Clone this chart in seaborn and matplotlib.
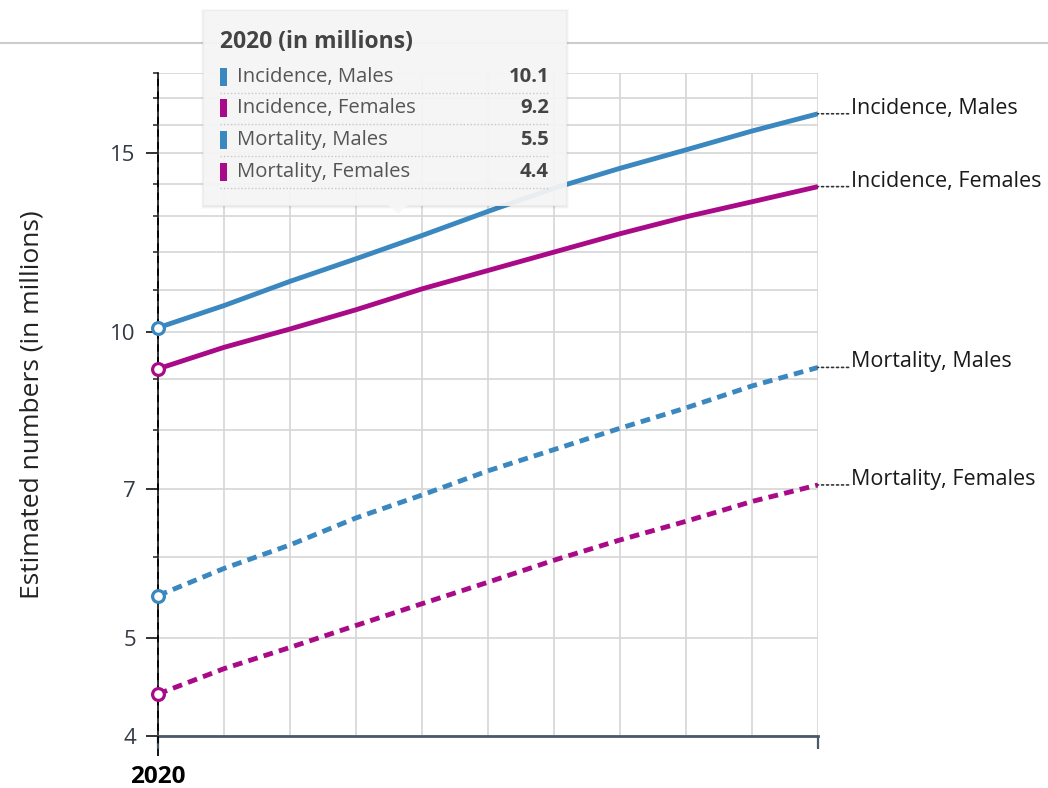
import numpy as np
import pandas as pd
import matplotlib
matplotlib.use("Agg")
import matplotlib.pyplot as plt
from matplotlib.patches import Polygon, Rectangle
from matplotlib.lines import Line2D
import seaborn as sns

# ---------------- data ----------------
years = [2020, 2022, 2024, 2026, 2028, 2030, 2032, 2034, 2036, 2038, 2040]
incidence_males = [10.1, 10.62, 11.22, 11.81, 12.45, 13.15, 13.86, 14.5, 15.12, 15.78, 16.41]
incidence_females = [9.2, 9.66, 10.07, 10.52, 11.03, 11.5, 11.99, 12.5, 12.99, 13.44, 13.91]
mortality_males = [5.5, 5.85, 6.17, 6.56, 6.91, 7.3, 7.66, 8.04, 8.42, 8.85, 9.23]
mortality_females = [4.4, 4.66, 4.89, 5.14, 5.4, 5.67, 5.96, 6.24, 6.51, 6.81, 7.07]
series_names = ["Incidence, Males", "Incidence, Females", "Mortality, Males", "Mortality, Females"]
tooltip_title = "2020 (in millions)"
tooltip_values = ["10.1", "9.2", "5.5", "4.4"]
y_major = [4, 5, 7, 10, 15]
y_minor = [6, 8, 9, 11, 12, 13, 14, 16, 17, 18]

BLUE = "#3a88bf"
MAGENTA = "#a90a88"
palette = {series_names[0]: BLUE, series_names[1]: MAGENTA,
           series_names[2]: BLUE, series_names[3]: MAGENTA}
dashes = {series_names[0]: "", series_names[1]: "",
          series_names[2]: (2.0, 1.3), series_names[3]: (2.0, 1.3)}

all_vals = [incidence_males, incidence_females, mortality_males, mortality_females]
df = pd.DataFrame({
    "year": np.tile(years, 4),
    "value": np.concatenate(all_vals),
    "series": np.repeat(series_names, len(years)),
})

# ---------------- figure ----------------
sns.set_theme(style="white")
plt.rcParams["font.family"] = ["Open Sans", "DejaVu Sans"]

W, H = 1048, 788
fig = plt.figure(figsize=(W / 100, H / 100), dpi=100)
fig.patch.set_facecolor("white")

def fx(x):
    return x / W

def fy(y):
    return 1 - y / H

L, R, T, B = 158, 818, 73, 736
ax = fig.add_axes([fx(L), fy(B), fx(R) - fx(L), fy(T) - fy(B)])

sns.lineplot(data=df, x="year", y="value", hue="series", style="series",
             palette=palette, dashes=dashes, linewidth=3.5, legend=False,
             ax=ax, zorder=3)
for lh in ax.lines:
    lh.set_solid_capstyle("butt")
    lh.set_dash_capstyle("butt")
    lh.set_solid_joinstyle("round")

ax.set_yscale("log")
ax.set_ylim(4, 18)
ax.set_xlim(2020, 2040)

ax.yaxis.set_major_locator(matplotlib.ticker.FixedLocator(y_major))
ax.yaxis.set_minor_locator(matplotlib.ticker.FixedLocator(y_minor))
ax.yaxis.set_major_formatter(matplotlib.ticker.FixedFormatter([str(v) for v in y_major]))
ax.yaxis.set_minor_formatter(matplotlib.ticker.NullFormatter())

ax.set_xticks([2020, 2040])
ax.set_xticklabels(["2020", ""])
ax.set_xticks(years, minor=True)

ax.grid(True, which="both", axis="both", color="#d6d6d6", linewidth=1.2, zorder=0)
ax.set_axisbelow(True)

ax.tick_params(axis="y", which="major", length=9, width=1.3, color="#222222",
               labelsize=16, labelcolor="#333a44", pad=7, left=True)
ax.tick_params(axis="y", which="minor", length=3.8, width=1.1, color="#222222", left=True)
ax.tick_params(axis="x", which="major", length=9, width=1.6, color="#4a5868",
               labelsize=17.5, labelcolor="black", pad=12, bottom=True)
ax.tick_params(axis="x", which="minor", length=0)
for lbl in ax.get_xticklabels():
    lbl.set_fontweight("bold")

for side in ["top", "right"]:
    ax.spines[side].set_visible(False)
ax.spines["left"].set_color("#222222")
ax.spines["left"].set_linewidth(1.3)
ax.spines["bottom"].set_color("#4a5868")
ax.spines["bottom"].set_linewidth(2.0)

ax.set_xlabel("")
ax.set_ylabel("Estimated numbers (in millions)", fontsize=19, color="#222222")
ax.yaxis.set_label_coords(-0.172, 0.5)

# crosshair at 2020
ax.axvline(2020, ymin=-0.03, ymax=1.0, color="black", linewidth=1.3,
           linestyle=(0, (4, 3)), clip_on=False, zorder=4)

# hollow markers at the first year
for name, vals in zip(series_names, all_vals):
    ax.plot([years[0]], [vals[0]], marker="o", markersize=8.5, mfc="white",
            mec=palette[name], mew=2.3, clip_on=False, zorder=6, linestyle="none")

# end labels with dotted leaders
for name, vals in zip(series_names, all_vals):
    ax.annotate("", xy=(years[-1], vals[-1]), xytext=(22, 0), textcoords="offset points",
                arrowprops=dict(arrowstyle="-", linestyle=(0, (1.2, 1.8)), color="#333333",
                                lw=1.2, shrinkA=0, shrinkB=0), annotation_clip=False)
    ax.annotate(name, xy=(years[-1], vals[-1]), xytext=(24, 0), textcoords="offset points",
                ha="left", va="baseline", fontsize=15.5, color="#1a1a1a",
                annotation_clip=False)

# page separator line
fig.add_artist(Line2D([0, 1], [fy(43), fy(43)], transform=fig.transFigure,
                      color="#cccccc", linewidth=1.5, zorder=1))

# ---------------- tooltip ----------------
tx0, ty0, tx1, ty1 = 203, 10, 566, 205
for i, a in enumerate([0.04, 0.03, 0.02]):
    off = 1 + i
    fig.add_artist(Rectangle((fx(tx0 - off + 1), fy(ty1 + off + 1)),
                             fx(tx1 + off) - fx(tx0 - off + 1), fy(ty0 - off + 2) - fy(ty1 + off + 1),
                             transform=fig.transFigure, facecolor="black", alpha=a,
                             edgecolor="none", zorder=10))
fig.add_artist(Rectangle((fx(tx0), fy(ty1)), fx(tx1) - fx(tx0), fy(ty0) - fy(ty1),
                         transform=fig.transFigure, facecolor="#f7f7f7", alpha=0.93,
                         edgecolor="#ececec", linewidth=0.8, zorder=11))
fig.add_artist(Polygon([(fx(388), fy(ty1)), (fx(408), fy(ty1)), (fx(398), fy(214))],
                       closed=True, transform=fig.transFigure, facecolor="#f7f7f7",
                       alpha=0.93, edgecolor="none", zorder=11))

fig.text(fx(220), fy(42), tooltip_title, fontsize=16.5, fontweight="bold", color="#444444",
         ha="left", va="center", zorder=12)
row_y = [77, 108, 140, 172]
for name, val, yy in zip(series_names, tooltip_values, row_y):
    fig.add_artist(Rectangle((fx(220), fy(yy + 9)), fx(227) - fx(220), fy(yy - 9) - fy(yy + 9),
                             transform=fig.transFigure, facecolor=palette[name],
                             edgecolor="none", zorder=12))
    fig.text(fx(237), fy(yy), name, fontsize=14.6, color="#555555",
             ha="left", va="center", zorder=12)
    fig.text(fx(549), fy(yy), val, fontsize=14.6, fontweight="bold", color="#444444",
             ha="right", va="center", zorder=12)
    fig.add_artist(Line2D([fx(220), fx(549)], [fy(yy + 16), fy(yy + 16)],
                          transform=fig.transFigure, color="#c8c8c8", linewidth=1.0,
                          linestyle=(0, (1, 1.5)), zorder=12))

fig.savefig("out.png", dpi=100, facecolor="white")
